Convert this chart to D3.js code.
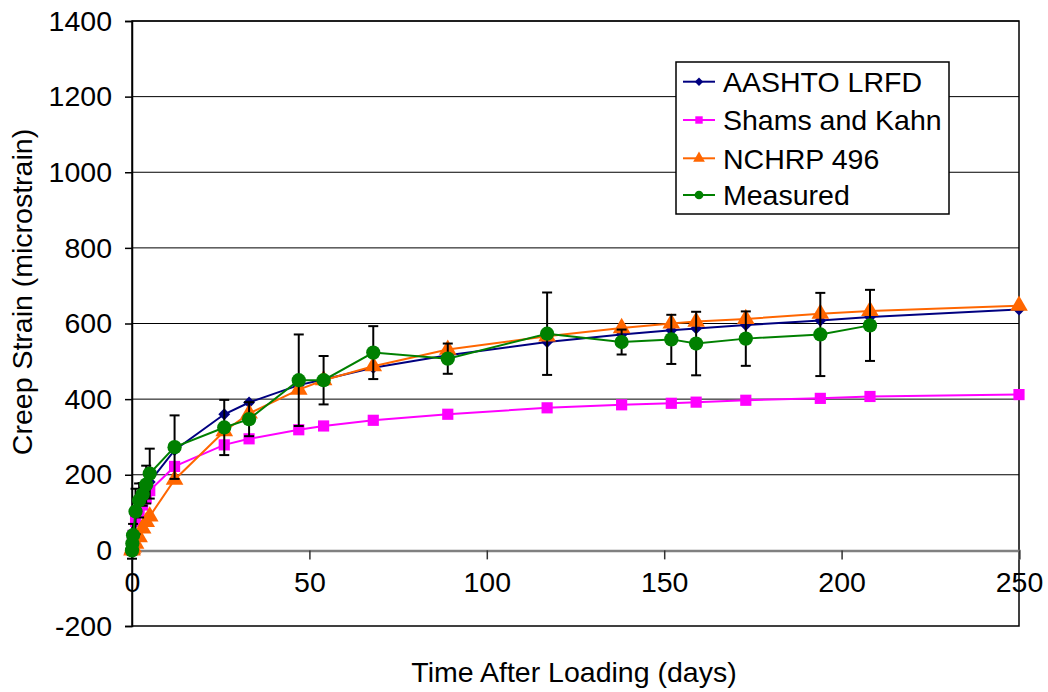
<!DOCTYPE html>
<html>
<head>
<meta charset="utf-8">
<script src="https://cdn.jsdelivr.net/npm/d3@7"></script>
<style>
  html, body { margin: 0; padding: 0; background: #fff; }
  svg { display: block; font-family: "Liberation Sans", Arial, sans-serif; }
</style>
</head>
<body>
<svg id="chart" width="1048" height="692"></svg>
<script>
// Creep strain versus time: three prediction models and the measured values
const modelDays    = [0, 0.1, 0.3, 1, 2, 3, 4, 5, 12, 26, 33, 47, 54, 68, 89, 117, 138, 152, 159, 173, 194, 208, 250];
const aashtoLRFD   = [0, 20, 45, 95, 125, 147, 165, 181, 265, 360, 391, 437, 452, 483, 516, 551, 571, 582, 587, 596, 608, 617, 637];
const shamsKahn    = [0, 18, 40, 77, 100, 120, 138, 158, 222, 279, 295, 319, 329, 344, 360, 377, 385, 389, 392, 397, 402, 407, 412];
const nchrp496     = [0, 3, 8, 18, 35, 58, 75, 90, 187, 315, 362, 425, 450, 487, 531, 566, 588, 600, 605, 612, 626, 633, 647];

const measuredDays = [0, 0.1, 0.3, 1, 2, 3, 4, 5, 12, 26, 33, 47, 54, 68, 89, 117, 138, 152, 159, 173, 194, 208];
const measured     = [0, 18, 40, 103, 132, 148, 174, 203, 273, 325, 347, 450, 450, 523, 507, 573, 551, 558, 547, 560, 571, 595];
const measuredErr  = [22, 25, 30, 60, 45, 30, 50, 66, 84, 73, 45, 121, 64, 70, 40, 109, 33, 65, 84, 72, 110, 94];

const xTicks = [0, 50, 100, 150, 200, 250];
const yTicks = [-200, 0, 200, 400, 600, 800, 1000, 1200, 1400];
const seriesNames = ["AASHTO LRFD", "Shams and Kahn", "NCHRP 496", "Measured"];

const svg = d3.select("#chart");
const plotLeft = 132, plotRight = 1019, plotTop = 21, plotBottom = 626;
const x = d3.scaleLinear().domain([0, 250]).range([plotLeft, plotRight]);
const y = d3.scaleLinear().domain([-200, 1400]).range([plotBottom, plotTop]);
const fontFamily = "Liberation Sans, Arial, sans-serif";
const plainNum = d => String(d);

// horizontal gridlines
svg.append("g").selectAll("line").data(yTicks.filter(v => v !== 0 && v !== -200)).join("line")
  .attr("x1", plotLeft).attr("x2", plotRight)
  .attr("y1", d => y(d)).attr("y2", d => y(d))
  .attr("stroke", "#000").attr("stroke-width", 1);

// plot frame
svg.append("rect").attr("x", plotLeft).attr("y", plotTop)
  .attr("width", plotRight - plotLeft).attr("height", plotBottom - plotTop)
  .attr("fill", "none").attr("stroke", "#000").attr("stroke-width", 1.5);

// y axis
const yAxis = d3.axisLeft(y).tickValues(yTicks).tickSize(7).tickPadding(13).tickFormat(plainNum);
const gy = svg.append("g").attr("transform", `translate(${plotLeft},0)`).call(yAxis);
gy.select(".domain").attr("stroke", "#000").attr("stroke-width", 1.5);
gy.selectAll(".tick line").attr("stroke", "#000").attr("stroke-width", 1.5);
gy.selectAll(".tick text").attr("font-size", 28.5).attr("fill", "#000")
  .attr("font-family", fontFamily);

// x axis crossing at zero strain
const xAxis = d3.axisBottom(x).tickValues(xTicks).tickSize(9).tickPadding(12).tickFormat(plainNum);
const gx = svg.append("g").attr("transform", `translate(0,${y(0)})`).call(xAxis);
gx.select(".domain").attr("stroke", "#808080").attr("stroke-width", 2.5);
gx.selectAll(".tick line").attr("stroke", "#333").attr("stroke-width", 1.5);
gx.selectAll(".tick text").attr("font-size", 28.5).attr("fill", "#000")
  .attr("font-family", fontFamily);

// axis titles
svg.append("text").attr("x", 574).attr("y", 682).attr("text-anchor", "middle")
  .attr("font-size", 28.5).attr("fill", "#000").text("Time After Loading (days)");
svg.append("text").attr("transform", "translate(32,292) rotate(-90)").attr("text-anchor", "middle")
  .attr("font-size", 28.5).attr("fill", "#000").text("Creep Strain (microstrain)");

const line = d3.line().x(d => x(d[0])).y(d => y(d[1]));
const zip = (a, b) => a.map((v, i) => [v, b[i]]);

const series = [
  { name: seriesNames[0], days: modelDays, vals: aashtoLRFD, color: "#000080", sym: d3.symbolDiamond2, size: 90, lsize: 45 },
  { name: seriesNames[1], days: modelDays, vals: shamsKahn, color: "#FF00FF", sym: d3.symbolSquare, size: 125, lsize: 55 },
  { name: seriesNames[2], days: modelDays, vals: nchrp496, color: "#FF6600", sym: d3.symbolTriangle, size: 135, lsize: 60 },
  { name: seriesNames[3], days: measuredDays, vals: measured, color: "#008000", sym: d3.symbolCircle, size: 160, lsize: 60 }
];

const plot = svg.append("g");
series.forEach((s, si) => {
  const pts = zip(s.days, s.vals);
  const g = plot.append("g");
  if (si === 3) {
    // error bars for the measured values
    const eb = g.append("g");
    pts.forEach((p, i) => {
      const e = measuredErr[i];
      const cx = x(p[0]);
      eb.append("line").attr("x1", cx).attr("x2", cx)
        .attr("y1", y(p[1] - e)).attr("y2", y(p[1] + e))
        .attr("stroke", "#000").attr("stroke-width", 2);
      [p[1] - e, p[1] + e].forEach(v => {
        eb.append("line").attr("x1", cx - 5).attr("x2", cx + 5)
          .attr("y1", y(v)).attr("y2", y(v))
          .attr("stroke", "#000").attr("stroke-width", 2);
      });
    });
  }
  g.append("path").datum(pts).attr("d", line)
    .attr("fill", "none").attr("stroke", s.color).attr("stroke-width", 2);
  g.selectAll("path.m").data(pts).join("path").attr("class", "m")
    .attr("transform", d => `translate(${x(d[0])},${y(d[1])})`)
    .attr("d", d3.symbol().type(s.sym).size(s.size))
    .attr("fill", s.color);
});

// legend
const lg = svg.append("g");
lg.append("rect").attr("x", 676).attr("y", 62).attr("width", 273).attr("height", 152)
  .attr("fill", "#fff").attr("stroke", "#000").attr("stroke-width", 1.5);
const rowY = [81.7, 120, 158.3, 195];
series.forEach((s, i) => {
  const ry = rowY[i];
  lg.append("line").attr("x1", 683).attr("x2", 715).attr("y1", ry).attr("y2", ry)
    .attr("stroke", s.color).attr("stroke-width", 2);
  lg.append("path").attr("transform", `translate(699,${ry})`)
    .attr("d", d3.symbol().type(s.sym).size(s.lsize)).attr("fill", s.color);
  lg.append("text").attr("x", 723).attr("y", ry).attr("dy", "0.36em")
    .attr("font-size", 28.5).attr("fill", "#000").text(s.name);
});
</script>
</body>
</html>
